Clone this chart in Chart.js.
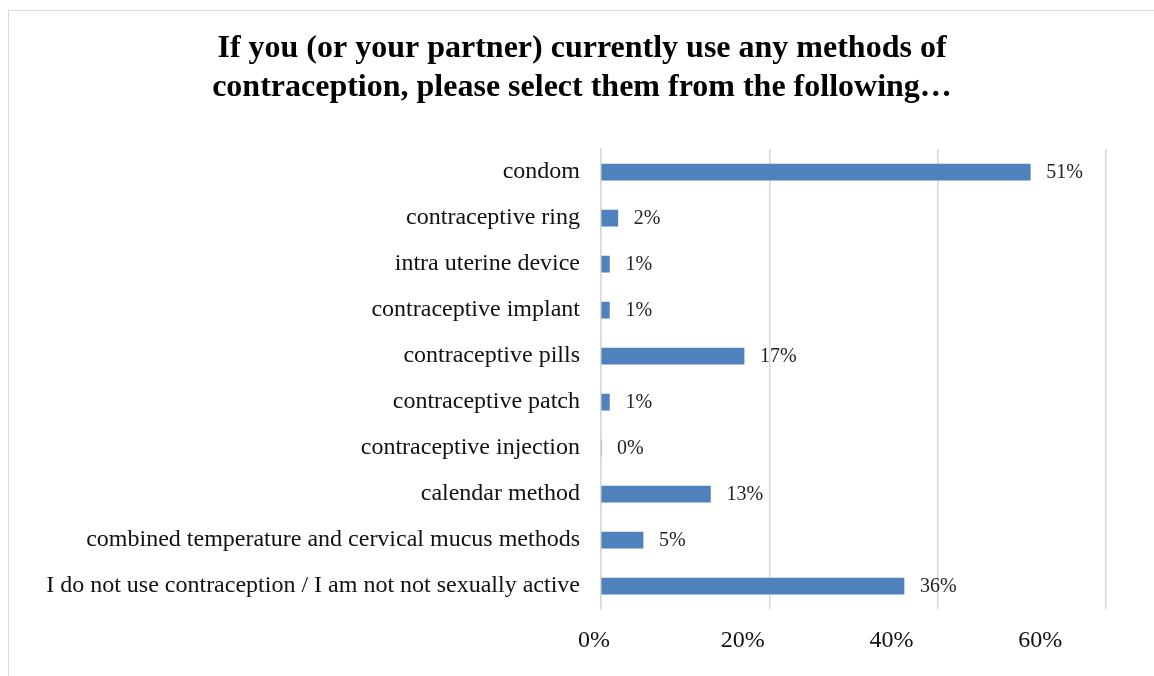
<!DOCTYPE html>
<html>
<head>
<meta charset="utf-8">
<script src="https://cdn.jsdelivr.net/npm/chart.js@4"></script>
<style>
  html, body { margin: 0; padding: 0; background: #fff; overflow: hidden; }
  #box {
    position: absolute; left: 8px; top: 10px;
    width: 1160px; height: 680px;
    border: 1px solid #d9d9d9; box-sizing: border-box;
  }
  #wrap { position: absolute; left: 0; top: 0; width: 1146px; height: 666px; }
</style>
</head>
<body>
<div id="box"><div id="wrap"><canvas id="methodsChart"></canvas></div></div>
<script>
var categories = [
    'condom',
    'contraceptive ring',
    'intra uterine device',
    'contraceptive implant',
    'contraceptive pills',
    'contraceptive patch',
    'contraceptive injection',
    'calendar method',
    'combined temperature and cervical mucus methods',
    'I do not use contraception / I am not not sexually active'
];
var shares = [51, 2, 1, 1, 17, 1, 0, 13, 5, 36]; // percent of respondents
var xTicks = [0, 20, 40, 60];

var serif = "'Liberation Serif', 'Times New Roman', serif";

// small plugin to write the value right of each bar
var barLabels = {
    id: 'barLabels',
    afterDatasetsDraw: function(chart) {
        var ctx = chart.ctx;
        var meta = chart.getDatasetMeta(0);
        ctx.save();
        ctx.font = '20px ' + serif;
        ctx.fillStyle = '#222';
        ctx.textAlign = 'left';
        ctx.textBaseline = 'middle';
        meta.data.forEach(function(bar, i) {
            ctx.fillText(shares[i] + '%', bar.x + 16, bar.y + 1);
        });
        ctx.restore();
    }
};

function setTicks(axis) {
    axis.ticks = xTicks.map(function(v) { return { value: v }; });
}

var ctx = document.getElementById('methodsChart').getContext('2d');
var methodsChart = new Chart(ctx, {
    type: 'bar',
    data: {
        labels: categories,
        datasets: [{
            data: shares,
            backgroundColor: '#4f81bd',
            borderWidth: 0,
            barThickness: 16
        }]
    },
    options: {
        indexAxis: 'y',
        responsive: true,
        maintainAspectRatio: false,
        animation: false,
        layout: { padding: { left: 0, right: 0, top: 0, bottom: 5 } },
        scales: {
            x: {
                min: 0,
                max: 60,
                afterBuildTicks: setTicks,
                grid: { color: '#d9d9d9', lineWidth: 1.5, drawTicks: false },
                border: { display: false },
                ticks: { display: false }
            },
            // tick labels in the original sit a bit off the gridlines
            xl: {
                type: 'linear',
                position: 'bottom',
                min: 0.94,
                max: 68.86,
                afterBuildTicks: setTicks,
                grid: { display: false, drawTicks: false },
                border: { display: false },
                ticks: {
                    padding: 17,
                    color: '#111',
                    autoSkip: false,
                    font: { family: serif, size: 24 },
                    callback: function(v) { return v + '%'; }
                }
            },
            y: {
                grid: { display: false, drawTicks: false },
                border: { display: true, color: '#d9d9d9', width: 1.5 },
                afterFit: function(axis) { axis.width = 592; },
                ticks: {
                    padding: 21,
                    color: '#111',
                    font: { family: serif, size: 24 },
                    autoSkip: false
                }
            },
            // empty axis on the right, only keeps space free
            yr: {
                type: 'category',
                position: 'right',
                grid: { display: false, drawTicks: false },
                border: { display: false },
                ticks: { display: false },
                afterFit: function(axis) { axis.width = 49; }
            }
        },
        plugins: {
            legend: { display: false },
            tooltip: { enabled: false },
            title: {
                display: true,
                text: ['If you (or your partner) currently use any methods of',
                       'contraception, please select them from the following\u2026'],
                color: '#000',
                font: { family: serif, size: 32, weight: 'bold', lineHeight: 1.22 },
                padding: { top: 18, bottom: 42 }
            }
        }
    },
    plugins: [barLabels]
});
</script>
</body>
</html>
